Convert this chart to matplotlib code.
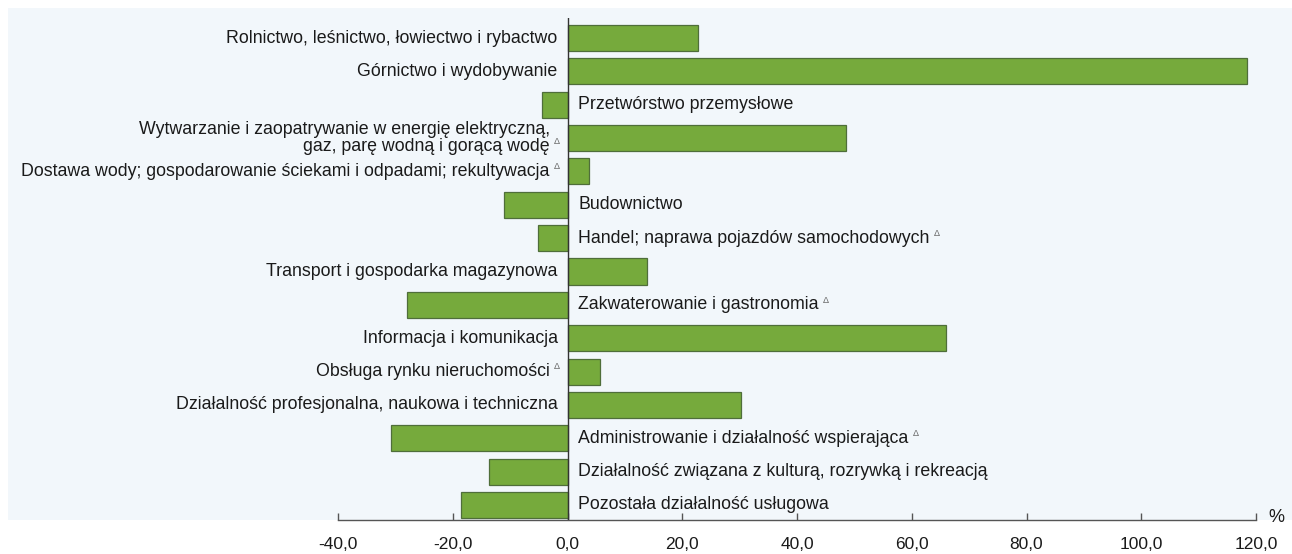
import matplotlib
matplotlib.use("Agg")
import matplotlib.pyplot as plt
from matplotlib.patches import Rectangle

plt.rcParams['font.family'] = ['Liberation Sans', 'DejaVu Sans']

categories = [
    "Rolnictwo, leśnictwo, łowiectwo i rybactwo",
    "Górnictwo i wydobywanie",
    "Przetwórstwo przemysłowe",
    "Wytwarzanie i zaopatrywanie w energię elektryczną,\ngaz, parę wodną i gorącą wodę",
    "Dostawa wody; gospodarowanie ściekami i odpadami; rekultywacja",
    "Budownictwo",
    "Handel; naprawa pojazdów samochodowych",
    "Transport i gospodarka magazynowa",
    "Zakwaterowanie i gastronomia",
    "Informacja i komunikacja",
    "Obsługa rynku nieruchomości",
    "Działalność profesjonalna, naukowa i techniczna",
    "Administrowanie i działalność wspierająca",
    "Działalność związana z kulturą, rozrywką i rekreacją",
    "Pozostała działalność usługowa",
]
values = [22.8, 118.5, -4.5, 48.6, 3.8, -11.0, -5.2, 13.9, -27.9, 65.9, 5.7, 30.3, -30.8, -13.6, -18.6]
delta_mark = [False, False, False, True, True, False, True, False, True, False, True, False, True, False, False]
tick_values = [-40, -20, 0, 20, 40, 60, 80, 100, 120]
tick_labels = ["-40,0", "-20,0", "0,0", "20,0", "40,0", "60,0", "80,0", "100,0", "120,0"]

W, H = 1292, 554
fig = plt.figure(figsize=(W / 100, H / 100), dpi=100, facecolor="white")
# light panel background
fig.patches.append(Rectangle((8 / W, (H - 520) / H), 1 - 8 / W, (520 - 8) / H,
                             transform=fig.transFigure, facecolor="#f2f7fb",
                             edgecolor="none", zorder=-5))

ax = fig.add_axes([338 / W, (H - 520) / H, (1256 - 338) / W, (520 - 18) / H])
ax.set_facecolor("none")
ax.set_zorder(2)

ypos = list(range(len(categories)))
ax.barh(ypos, values, height=0.78, color="#76aa3c", edgecolor="#4f6e3a", linewidth=0.9, zorder=3)

ax.set_xlim(-40, 120)
ax.set_ylim(14.45, -0.6)
ax.axvline(0, color="#333333", linewidth=1.0, zorder=4)

for s in ["top", "left", "right"]:
    ax.spines[s].set_visible(False)
ax.spines["bottom"].set_color("#555555")
ax.spines["bottom"].set_linewidth(1.0)
ax.set_yticks([])
ax.set_xticks(tick_values)
ax.set_xticklabels(tick_labels, fontsize=12.5, color="#1a1a1a")
ax.tick_params(axis="x", direction="in", length=5, width=1, color="#555555", pad=12)

ax.text(1.013, 0.004, "%", transform=ax.transAxes, fontsize=13, color="#1a1a1a",
        ha="left", va="center")

fs = 12.8
for y, lab, v, d in zip(ypos, categories, values, delta_mark):
    nlines = lab.count("\n") + 1
    if v >= 0:
        x = -1.7 - (1.4 if d else 0)
        t = ax.text(x, y, lab, ha="right", va="center", fontsize=fs, color="#1a1a1a",
                    multialignment="right", linespacing=1.05, zorder=5, clip_on=False)
    else:
        t = ax.text(1.9, y, lab, ha="left", va="center", fontsize=fs, color="#1a1a1a",
                    linespacing=1.05, zorder=5, clip_on=False)
    if d:
        ax.annotate("Δ", xy=(1, 1.0 / nlines), xycoords=t, xytext=(3, 0.5),
                    textcoords="offset points", fontsize=6.5, color="#666666",
                    ha="left", va="top", annotation_clip=False)

fig.savefig("out.png", dpi=100, facecolor="white")
